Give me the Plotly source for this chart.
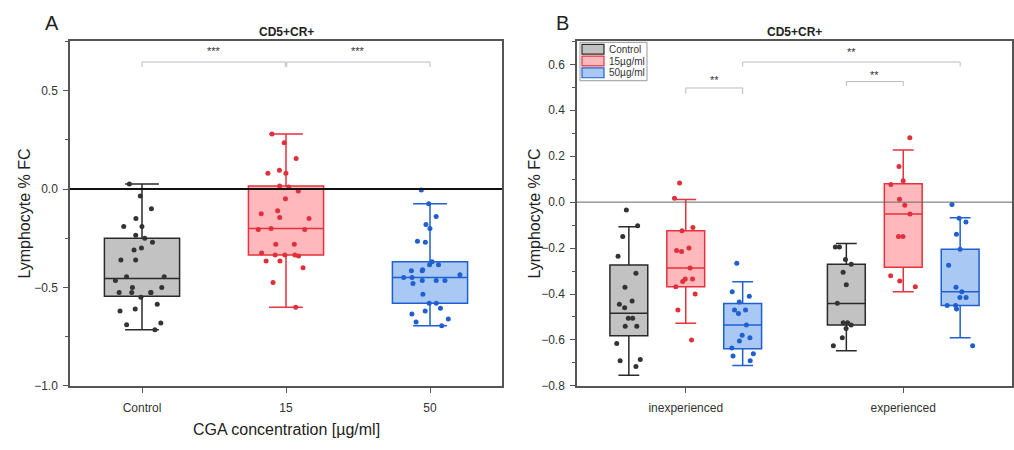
import plotly.graph_objects as go

FONT = "Arial, Liberation Sans, sans-serif"

# ---------------- data ----------------
cats_a = ["Control", "15", "50"]
groups_b = ["inexperienced", "experienced"]
series_names = ["Control", "15µg/ml", "50µg/ml"]

# Panel A – individual points
a_control = [0.025, -0.035, -0.10, -0.15, -0.19, -0.19, -0.235, -0.25, -0.27, -0.30,
             -0.31, -0.36, -0.36, -0.445, -0.445, -0.465, -0.50, -0.50, -0.525, -0.525,
             -0.525, -0.525, -0.55, -0.585, -0.61, -0.62, -0.68, -0.69, -0.715]
a_15 = [0.28, 0.235, 0.155, 0.095, 0.08, 0.08, 0.015, 0.01, -0.01, -0.05,
        -0.11, -0.125, -0.145, -0.15, -0.20, -0.205, -0.205, -0.28, -0.28, -0.325,
        -0.335, -0.335, -0.335, -0.34, -0.365, -0.365, -0.40, -0.475, -0.60]
a_50 = [-0.005, -0.075, -0.14, -0.18, -0.20, -0.265, -0.27, -0.37, -0.385, -0.385,
        -0.41, -0.415, -0.415, -0.435, -0.45, -0.45, -0.465, -0.465, -0.465, -0.48,
        -0.535, -0.58, -0.58, -0.605, -0.62, -0.635, -0.66, -0.675, -0.695]

# Panel A – box statistics (Control, 15, 50)
a_q1 = [-0.545, -0.335, -0.58]
a_median = [-0.455, -0.20, -0.45]
a_q3 = [-0.25, 0.015, -0.37]
a_lower = [-0.715, -0.60, -0.695]
a_upper = [0.025, 0.28, -0.075]

# Panel B – individual points (inexperienced, experienced)
b_control_inexp = [-0.034, -0.103, -0.15, -0.236, -0.31, -0.37, -0.43, -0.445, -0.46,
                   -0.505, -0.505, -0.54, -0.54, -0.615, -0.685, -0.69, -0.715]
b_control_exp = [-0.195, -0.195, -0.25, -0.27, -0.305, -0.36, -0.44, -0.525, -0.525,
                 -0.535, -0.55, -0.59, -0.625]
b_15_inexp = [0.083, 0.017, -0.11, -0.125, -0.20, -0.21, -0.215, -0.287, -0.335,
              -0.335, -0.345, -0.368, -0.40, -0.47, -0.60]
b_15_exp = [0.28, 0.155, 0.093, 0.077, 0.013, -0.013, -0.052, -0.15, -0.15, -0.32,
            -0.343, -0.368]
b_50_inexp = [-0.266, -0.39, -0.41, -0.435, -0.47, -0.47, -0.485, -0.535, -0.58,
              -0.59, -0.605, -0.635, -0.66, -0.67, -0.69]
b_50_exp = [-0.01, -0.07, -0.086, -0.14, -0.205, -0.275, -0.37, -0.39, -0.415,
            -0.415, -0.45, -0.45, -0.465, -0.625]

# Panel B – box statistics per series: [inexperienced, experienced]
b_control_q1 = [-0.582, -0.535]
b_control_median = [-0.484, -0.441]
b_control_q3 = [-0.274, -0.27]
b_control_lower = [-0.754, -0.647]
b_control_upper = [-0.107, -0.18]

b_15_q1 = [-0.368, -0.283]
b_15_median = [-0.287, -0.052]
b_15_q3 = [-0.124, 0.08]
b_15_lower = [-0.527, -0.39]
b_15_upper = [0.012, 0.227]

b_50_q1 = [-0.638, -0.45]
b_50_median = [-0.535, -0.39]
b_50_q3 = [-0.441, -0.205]
b_50_lower = [-0.711, -0.59]
b_50_upper = [-0.347, -0.068]

# ---------------- style ----------------
line_colors = ["#2a2a2a", "#e5323c", "#1f5fcf"]
fill_colors = ["#c2c2c2", "#ffb8bb", "#a9c8f4"]
point_colors = ["#333333", "#e0303c", "#1f5fd0"]
AXC = "#555555"
TXT = "#333333"
BOXGAP = 0.215
GROUPGAP = 0.335
W, H = 1014, 450

fig = go.Figure()

# Panel A boxes
a_points = [a_control, a_15, a_50]
for i, cat in enumerate(cats_a):
    fig.add_trace(go.Box(
        x=[cat], q1=[a_q1[i]], median=[a_median[i]], q3=[a_q3[i]],
        lowerfence=[a_lower[i]], upperfence=[a_upper[i]],
        fillcolor=fill_colors[i], line=dict(color=line_colors[i], width=1.5),
        whiskerwidth=0.45, offsetgroup="A", showlegend=False,
        xaxis="x", yaxis="y", hoverinfo="skip"))
for i, cat in enumerate(cats_a):
    fig.add_trace(go.Box(
        x=[cat] * len(a_points[i]), y=a_points[i], boxpoints="all", jitter=0.9,
        pointpos=0, fillcolor="rgba(0,0,0,0)",
        line=dict(color="rgba(0,0,0,0)", width=0),
        marker=dict(color=point_colors[i], size=5),
        offsetgroup="A", showlegend=False, xaxis="x", yaxis="y"))

# Panel B boxes
b_stats = [
    (b_control_q1, b_control_median, b_control_q3, b_control_lower, b_control_upper),
    (b_15_q1, b_15_median, b_15_q3, b_15_lower, b_15_upper),
    (b_50_q1, b_50_median, b_50_q3, b_50_lower, b_50_upper),
]
b_points = [(b_control_inexp, b_control_exp), (b_15_inexp, b_15_exp), (b_50_inexp, b_50_exp)]
for i, name in enumerate(series_names):
    q1, med, q3, lo, hi = b_stats[i]
    fig.add_trace(go.Box(
        x=groups_b, q1=q1, median=med, q3=q3, lowerfence=lo, upperfence=hi,
        name=name, fillcolor=fill_colors[i], line=dict(color=line_colors[i], width=1.5),
        whiskerwidth=0.55, offsetgroup="B%d" % i, showlegend=False,
        xaxis="x2", yaxis="y2", hoverinfo="skip"))
for i, name in enumerate(series_names):
    inexp, exp = b_points[i]
    fig.add_trace(go.Box(
        x=[groups_b[0]] * len(inexp) + [groups_b[1]] * len(exp), y=inexp + exp,
        boxpoints="all", jitter=0.8, pointpos=0, fillcolor="rgba(0,0,0,0)",
        line=dict(color="rgba(0,0,0,0)", width=0),
        marker=dict(color=point_colors[i], size=5), offsetgroup="B%d" % i,
        showlegend=False, xaxis="x2", yaxis="y2"))

# ---------------- layout ----------------
xa_dom = [70 / W, 502 / W]
xb_dom = [577 / W, 1012 / W]
y_dom = [1 - 392 / H, 1 - 42 / H]

axis_common = dict(showline=True, linecolor=AXC, linewidth=1.5, mirror=True,
                   ticks="outside", tickcolor=AXC, ticklen=5, showgrid=False,
                   zeroline=False, tickfont=dict(family=FONT, size=12, color=TXT))

fig.update_layout(
    width=W, height=H, margin=dict(l=0, r=0, t=0, b=0),
    paper_bgcolor="white", plot_bgcolor="white",
    boxmode="group", boxgap=BOXGAP, boxgroupgap=GROUPGAP,
    font=dict(family=FONT, color=TXT), showlegend=False,
    xaxis=dict(domain=xa_dom, anchor="y", type="category", range=[-0.5, 2.5],
               ticklabelstandoff=5, **axis_common),
    yaxis=dict(domain=y_dom, anchor="x", range=[-1.0, 0.75], dtick=0.5, tick0=0,
               tickformat=".1f", ticklabelstandoff=3,
               minor=dict(dtick=0.25, ticks="outside", ticklen=3, tickcolor=AXC),
               **axis_common),
    xaxis2=dict(domain=xb_dom, anchor="y2", type="category", range=[-0.5, 1.5],
                ticklabelstandoff=5, **axis_common),
    yaxis2=dict(domain=y_dom, anchor="x2", range=[-0.8, 0.7], dtick=0.2, tick0=0,
                tickformat=".1f", ticklabelstandoff=3,
                minor=dict(dtick=0.1, ticks="outside", ticklen=3, tickcolor=AXC),
                **axis_common),
)

shapes = []
# zero lines
shapes.append(dict(type="line", xref="x domain", yref="y", x0=0, x1=1, y0=0, y1=0,
                   line=dict(color="#111111", width=2)))
shapes.append(dict(type="line", xref="x2 domain", yref="y2", x0=0, x1=1, y0=0, y1=0,
                   line=dict(color="#666666", width=1)))

BR = dict(color="#bbbbbb", width=1)


def bracket(xref, yref, xa, xb, ytop, yend):
    path = "M %f,%f L %f,%f L %f,%f L %f,%f" % (xa, yend, xa, ytop, xb, ytop, xb, yend)
    shapes.append(dict(type="path", xref=xref, yref=yref, path=path, line=BR))


annotations = []


def stars(xref, yref, x, y, txt):
    annotations.append(dict(xref=xref, yref=yref, x=x, y=y, text=txt, showarrow=False,
                            xanchor="center", yanchor="middle",
                            font=dict(family=FONT, size=11, color=TXT)))


# Panel A brackets
bracket("x", "y", 0, 0.995, 0.645, 0.62)
bracket("x", "y", 1.005, 2, 0.645, 0.62)
stars("x", "y", 0.5, 0.70, "***")
stars("x", "y", 1.5, 0.70, "***")

# Panel B brackets
slot = (1 - BOXGAP) / 3
bracket("x2", "y2", 0, slot, 0.497, 0.47)
stars("x2", "y2", slot / 2, 0.53, "**")
bracket("x2", "y2", slot, 1 + slot, 0.61, 0.59)
stars("x2", "y2", 0.5 + slot, 0.655, "**")
bracket("x2", "y2", 1 - slot, 1, 0.525, 0.505)
stars("x2", "y2", 1 - slot / 2, 0.555, "**")

# custom legend (panel B, top-left inside)
leg_x0, leg_x1, leg_y0, leg_y1 = 580, 647, 43, 82
shapes.append(dict(type="rect", xref="paper", yref="paper",
                   x0=leg_x0 / W, x1=leg_x1 / W, y0=1 - leg_y1 / H, y1=1 - leg_y0 / H,
                   fillcolor="white", line=dict(color="#999999", width=1), layer="above"))
row_centers = [50, 62, 74]
for i, name in enumerate(series_names):
    yc = row_centers[i]
    shapes.append(dict(type="rect", xref="paper", yref="paper",
                       x0=582 / W, x1=604 / W, y0=1 - (yc + 5) / H, y1=1 - (yc - 5) / H,
                       fillcolor=fill_colors[i], line=dict(color=line_colors[i], width=1.2),
                       layer="above"))
    annotations.append(dict(xref="paper", yref="paper", x=607 / W, y=1 - yc / H, text=name,
                            showarrow=False, xanchor="left", yanchor="middle",
                            font=dict(family=FONT, size=10, color=TXT)))

# titles and labels
for dom, letter, lx in [(xa_dom, "A", 52), (xb_dom, "B", 562)]:
    annotations.append(dict(xref="paper", yref="paper", x=sum(dom) / 2, y=1 - 33 / H,
                            text="<b>CD5+CR+</b>", showarrow=False, xanchor="center",
                            yanchor="middle", font=dict(family=FONT, size=12, color="#222")))
    annotations.append(dict(xref="paper", yref="paper", x=lx / W, y=1 - 23 / H, text=letter,
                            showarrow=False, xanchor="center", yanchor="middle",
                            font=dict(family=FONT, size=20, color="#222")))
for yx in [25, 535]:
    annotations.append(dict(xref="paper", yref="paper", x=yx / W, y=sum(y_dom) / 2,
                            text="Lymphocyte % FC", textangle=-90, showarrow=False,
                            xanchor="center", yanchor="middle",
                            font=dict(family=FONT, size=16, color="#222")))
annotations.append(dict(xref="paper", yref="paper", x=sum(xa_dom) / 2, y=1 - 436 / H,
                        text="CGA concentration [µg/ml]", showarrow=False,
                        xanchor="center", yanchor="middle",
                        font=dict(family=FONT, size=16, color="#222")))

fig.update_layout(shapes=shapes, annotations=annotations)
fig.write_html("out.html")
